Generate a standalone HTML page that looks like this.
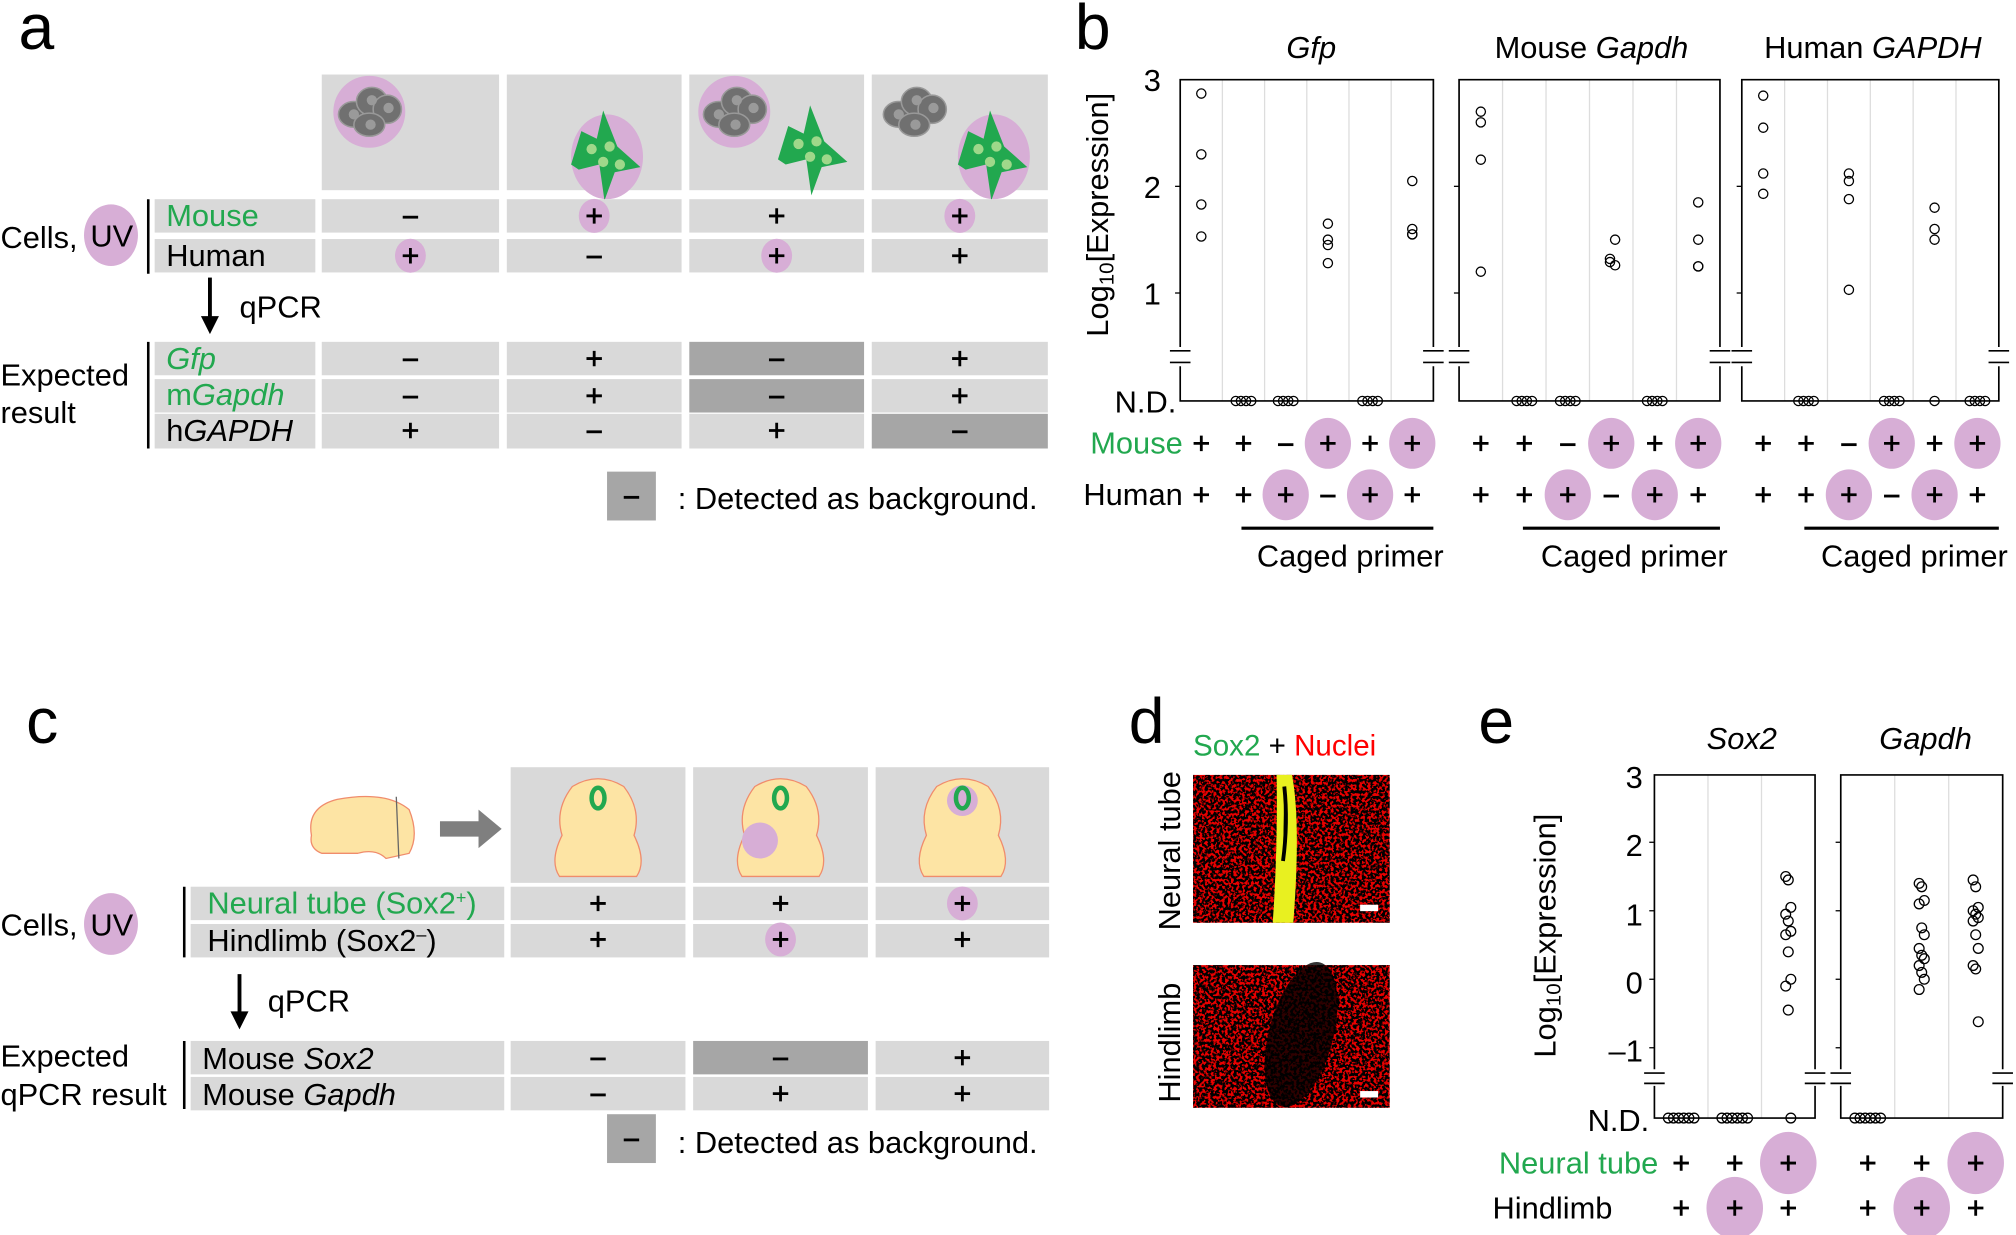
<!DOCTYPE html>
<html><head><meta charset="utf-8"><style>
html,body{margin:0;padding:0;background:#fff;}
svg{display:block;}
text{font-family:"Liberation Sans",Arial,sans-serif;}
</style></head><body>
<svg id="s" width="2016" height="1235" viewBox="0 0 1568 961" xmlns="http://www.w3.org/2000/svg">
<defs>
<filter id="noise" x="0" y="0" width="100%" height="100%">
<feTurbulence type="fractalNoise" baseFrequency="0.45" numOctaves="2" seed="3" result="t"/>
<feColorMatrix in="t" type="matrix" values="0 0 0 0 0  0 0 0 0 0  0 0 0 0 0  0 0 0 -9 5.2" result="m"/>
<feComposite in="m" in2="SourceGraphic" operator="in"/>
</filter>
</defs>
<g id="root"></g>
</svg>
<script>
const R=document.getElementById('root');let h='';
const T=(x,y,s,t,o='')=>{h+=`<text x="${x}" y="${y}" font-size="${s}" ${o}>${t}</text>`};
const rect=(x,y,w,hh,f)=>{h+=`<rect x="${x}" y="${y}" width="${w}" height="${hh}" fill="${f}"/>`};
const L='#d9d9d9',D='#a6a6a6',P='#d7aed6',G='#22a84f';
const sym=(x,y,s,pur,r=12)=>{if(pur)h+=`<ellipse cx="${x}" cy="${y}" rx="${r}" ry="${r*1.1}" fill="${P}"/>`;
 if(s=='+'){h+=`<path d="M${x-6} ${y}H${x+6}M${x} ${y-6}V${y+6}" stroke="#000" stroke-width="2.2"/>`}else{h+=`<path d="M${x-6} ${y+1}H${x+6}" stroke="#000" stroke-width="2.2"/>`}};
const gray=(x,y,pur)=>{if(pur)h+=`<circle cx="${x}" cy="${y}" r="28" fill="${P}"/>`;
 h+=`<g fill="#707070" stroke="#999" stroke-width="1.2"><ellipse cx="${x-12}" cy="${y+2}" rx="12" ry="10"/><ellipse cx="${x+2}" cy="${y-8}" rx="12" ry="11"/><ellipse cx="${x+14}" cy="${y-2}" rx="11" ry="11"/><ellipse cx="${x}" cy="${y+10}" rx="12" ry="9"/></g><g fill="#9a9a9a"><circle cx="${x-12}" cy="${y+2}" r="4"/><circle cx="${x+2}" cy="${y-9}" r="4"/><circle cx="${x+15}" cy="${y-3}" r="4"/><circle cx="${x+1}" cy="${y+10}" r="4"/></g>`};
const green=(x,y,pur)=>{if(pur)h+=`<ellipse cx="${x}" cy="${y}" rx="28" ry="33" fill="${P}"/>`;
 h+=`<path d="M${x-28} ${y+6}L${x-20} ${y-20}L${x-8} ${y-14}L${x-3} ${y-36}L${x+8} ${y-8}L${x+26} ${y+8}L${x+6} ${y+12}L${x-2} ${y+34}L${x-6} ${y+6}L${x-22} ${y+10}Z" fill="${G}"/><g fill="#9fd88a"><circle cx="${x-12}" cy="${y-6}" r="4"/><circle cx="${x+2}" cy="${y-8}" r="4"/><circle cx="${x-3}" cy="${y+4}" r="4"/><circle cx="${x+10}" cy="${y+6}" r="4"/></g>`};
// ===== a
T(14,38,50,'a');
const ac=[[250,138],[394,136],[536,136],[678,137]];
ac.forEach(c=>rect(c[0],58,c[1],90,L));
gray(287,87,1);green(472,122,1);gray(571,87,1);green(633,118,0);gray(711,87,0);green(773,122,1);
rect(120,155,125,26,L);rect(120,186,125,26,L);
T(129,176,24,'Mouse',`fill="${G}"`);T(129,207,24,'Human');
h+=`<path d="M115 155V213M115 266V349" stroke="#000" stroke-width="2"/>`;
T(0,193,24,'Cells,');h+=`<ellipse cx="86" cy="183" rx="21" ry="24" fill="${P}"/>`;T(70,192,24,'UV');
const aR1=[['-',0],['+',1],['+',0],['+',1]],aR2=[['+',1],['-',0],['+',1],['+',0]];
ac.forEach((c,i)=>{rect(c[0],155,c[1],26,L);rect(c[0],186,c[1],26,L);sym(c[0]+c[1]/2,168,aR1[i][0],aR1[i][1]);sym(c[0]+c[1]/2,199,aR2[i][0],aR2[i][1]);});
h+=`<path d="M163 216V252" stroke="#000" stroke-width="3"/><path d="M156 246L163 260L170 246Z"/>`;T(186,247,24,'qPCR');
rect(120,266,125,26,L);rect(120,295,125,26,L);rect(120,322,125,27,L);
T(129,287,24,'Gfp',`fill="${G}" font-style="italic"`);T(129,315,24,'m<tspan font-style="italic">Gapdh</tspan>',`fill="${G}"`);T(129,343,24,'h<tspan font-style="italic">GAPDH</tspan>');
T(0,300,24,'Expected');T(0,329,24,'result');
const ex=[['-','+','-','+'],['-','+','-','+'],['+','-','+','-']],dk=[[0,0,1,0],[0,0,1,0],[0,0,0,1]],ey=[266,295,322];
ac.forEach((c,i)=>{for(let r=0;r<3;r++){rect(c[0],ey[r],c[1],r==2?27:26,dk[r][i]?D:L);sym(c[0]+c[1]/2,ey[r]+13,ex[r][i],0);}});
rect(472,367,38,38,D);sym(491,386,'-',0);T(527,396,24,': Detected as background.');
// ===== b
T(836,38,50,'b');
const yb=v=>228-(v-1)*83;
const panels=[[918,1115,'<tspan font-style="italic">Gfp</tspan>',1020],[1135,1338,'Mouse <tspan font-style="italic">Gapdh</tspan>',1238],[1355,1555,'Human <tspan font-style="italic">GAPDH</tspan>',1457]];
const data=[
[[2.87,2.3,1.83,1.53],'N','N',[1.65,1.5,1.45,1.28],'N',[2.05,1.6,1.55,1.55]],
[[2.7,2.6,2.25,1.2],'N','N',[1.5,1.32,1.29,1.26],'N',[1.85,1.5,1.25,1.25]],
[[2.85,2.55,2.12,1.93],'N',[2.12,2.05,1.88,1.03],'N',[1.8,1.6,1.5,'n'],'N']];
panels.forEach((p,pi)=>{const [x0,x1,tt,tc]=p,w=(x1-x0)/6;
 for(let k=1;k<6;k++)h+=`<line x1="${x0+k*w}" y1="62" x2="${x0+k*w}" y2="312" stroke="#ddd" stroke-width="1"/>`;
 h+=`<path d="M${x0} 270V62H${x1}V270M${x0} 285V312H${x1}V285" fill="none" stroke="#000" stroke-width="1.3"/>`;
 [[x0,-1],[x1,1]].forEach(([xx])=>{h+=`<path d="M${xx-8} 273H${xx+8}M${xx-8} 282H${xx+8}" stroke="#000" stroke-width="1.3"/>`});
 [2,1].forEach(v=>h+=`<line x1="${x0-4}" y1="${yb(v)}" x2="${x0}" y2="${yb(v)}" stroke="#000"/>`);
 T(tc,45,24,tt,'text-anchor="middle"');
 data[pi].forEach((d,ci)=>{const cx=x0+w*(ci+0.5);
  if(d=='N'){[-6,-2,2,6].forEach(o=>h+=`<circle cx="${cx+o}" cy="312" r="3.6" fill="none" stroke="#000" stroke-width="1"/>`)}
  else d.forEach((v,j)=>{const yy=v=='n'?312:yb(v);h+=`<circle cx="${cx+(j%2?1:-1)*(pi==1&&ci==3?j*2-3:0)}" cy="${yy}" r="3.6" fill="none" stroke="#000" stroke-width="1"/>`});
  const m=['+','+','-','+','+','+'][ci],hu=['+','+','+','-','+','+'][ci];
  sym(cx,345,m,ci==3||ci==5,18);sym(cx,385,hu,ci==2||ci==4,18);});
 h+=`<line x1="${x0+w*2-18}" y1="411" x2="${x1}" y2="411" stroke="#000" stroke-width="2.5"/>`;
 T(x0+w*4+1,441,24,'Caged primer','text-anchor="middle"');
});
T(903,71,24,'3','text-anchor="end"');T(903,154,24,'2','text-anchor="end"');T(903,237,24,'1','text-anchor="end"');
T(915,321,24,'N.D.','text-anchor="end"');
T(0,0,24,'Log<tspan font-size="16" dy="4">10</tspan><tspan dy="-4">[Expression]</tspan>','transform="translate(862,262) rotate(-90)"');
T(920,353,24,'Mouse',`fill="${G}" text-anchor="end"`);T(920,393,24,'Human','text-anchor="end"');
// ===== c
T(20,578,50,'c');
h+=`<path d="M242 650Q238 628 262 622Q300 615 318 630Q326 650 318 664L300 668Q292 660 278 664L250 664Q240 660 242 650Z" fill="#fde4a4" stroke="#f08c6c" stroke-width="1"/><line x1="308" y1="620" x2="310" y2="668" stroke="#666"/>`;
h+=`<path d="M342 639H372V630L390 645L372 660V651H342Z" fill="#7f7f7f"/>`;
const cc=[[397,136],[539,136],[681,135]];
cc.forEach((c,i)=>{rect(c[0],597,c[1],90,L);const x=c[0]+c[1]/2;
 h+=`<path d="M${x-20} 612Q${x} 600 ${x+20} 612Q${x+34} 630 ${x+28} 650Q${x+38} 670 ${x+30} 682H${x-30}Q${x-38} 670 ${x-28} 650Q${x-34} 630 ${x-20} 612Z" fill="#fde4a4" stroke="#f08c6c" stroke-width="1"/>`;
 if(i==2)h+=`<circle cx="${x}" cy="623" r="12" fill="${P}"/>`;
 h+=`<ellipse cx="${x}" cy="621" rx="5" ry="8" fill="none" stroke="${G}" stroke-width="3.5"/>`;
 if(i==1)h+=`<circle cx="${x-16}" cy="654" r="14" fill="${P}"/>`;});
rect(148,690,244,26,L);rect(148,719,244,26,L);
T(161,711,24,'Neural tube (Sox2<tspan font-size="14" dy="-8">+</tspan><tspan dy="8">)</tspan>',`fill="${G}"`);T(161,740,24,'Hindlimb (Sox2<tspan font-size="14" dy="-8">–</tspan><tspan dy="8">)</tspan>');
h+=`<path d="M143 690V745M143 810V863" stroke="#000" stroke-width="2"/>`;
T(0,728,24,'Cells,');h+=`<ellipse cx="86" cy="719" rx="21" ry="24" fill="${P}"/>`;T(70,728,24,'UV');
const c1=[['+',0],['+',0],['+',1]],c2=[['+',0],['+',1],['+',0]];
cc.forEach((c,i)=>{rect(c[0],690,c[1],26,L);rect(c[0],719,c[1],26,L);sym(c[0]+c[1]/2,703,c1[i][0],c1[i][1]);sym(c[0]+c[1]/2,731,c2[i][0],c2[i][1]);});
h+=`<path d="M186 758V792" stroke="#000" stroke-width="3"/><path d="M179 787L186 801L193 787Z"/>`;T(208,787,24,'qPCR');
rect(148,810,244,26,L);rect(148,838,244,26,L);
T(157,832,24,'Mouse <tspan font-style="italic">Sox2</tspan>');T(157,860,24,'Mouse <tspan font-style="italic">Gapdh</tspan>');
T(0,830,24,'Expected');T(0,860,24,'qPCR result');
const ce=[['-','-','+'],['-','+','+']];
cc.forEach((c,i)=>{rect(c[0],810,c[1],26,(i==1)?D:L);rect(c[0],838,c[1],26,L);sym(c[0]+c[1]/2,823,ce[0][i],0);sym(c[0]+c[1]/2,851,ce[1][i],0);});
rect(472,867,38,38,D);sym(491,886,'-',0);T(527,897,24,': Detected as background.');
// ===== d
T(878,578,50,'d');
T(928,588,23,'<tspan fill="'+G+'">Sox2</tspan> + <tspan fill="#ff0000">Nuclei</tspan>');
rect(928,603,153,115,'#e80000');h+=`<rect x="928" y="603" width="153" height="115" fill="#e80000" filter="url(#noise)"/>`;
h+=`<path d="M993 603L1005 603Q1012 640 1006 718L990 718Q994 660 993 603Z" fill="#e8f020"/><path d="M999 612Q1002 640 998 670" stroke="#000" stroke-width="3"/>`;
rect(1058,704,14,5,'#fff');
rect(928,751,153,111,'#e80000');h+=`<rect x="928" y="751" width="153" height="111" fill="#e80000" filter="url(#noise)"/>`;
h+=`<ellipse cx="1012" cy="805" rx="25" ry="58" transform="rotate(15 1012 805)" fill="#000" opacity="0.8"/>`;
rect(1058,849,14,5,'#fff');
T(0,0,24,'Neural tube','transform="translate(918,724) rotate(-90)"');
T(0,0,24,'Hindlimb','transform="translate(918,858) rotate(-90)"');
// ===== e
T(1150,578,50,'e');
const ye=v=>762-v*53.3;
const ep=[[1287,1412,'Sox2',1355],[1432,1558,'Gapdh',1498]];
const ed=[['N','N',[1.5,1.45,1.05,0.95,0.85,0.7,0.65,0.4,0.0,-0.1,-0.45,'n']],['N',[1.4,1.35,1.15,1.1,0.75,0.65,0.45,0.35,0.3,0.2,0.1,0,-0.15],[1.45,1.35,1.05,1.0,0.95,0.9,0.85,0.65,0.45,0.2,0.15,-0.62]]];
ep.forEach((p,pi)=>{const [x0,x1,tt,tc]=p,w=(x1-x0)/3;
 for(let k=1;k<3;k++)h+=`<line x1="${x0+k*w}" y1="603" x2="${x0+k*w}" y2="870" stroke="#ddd"/>`;
 h+=`<path d="M${x0} 832V603H${x1}V832M${x0} 845V870H${x1}V845" fill="none" stroke="#000" stroke-width="1.3"/>`;
 [x0,x1].forEach(xx=>h+=`<path d="M${xx-8} 835H${xx+8}M${xx-8} 843H${xx+8}" stroke="#000" stroke-width="1.3"/>`);
 [2,1,0,-1].forEach(v=>h+=`<line x1="${x0-4}" y1="${ye(v)}" x2="${x0}" y2="${ye(v)}" stroke="#000"/>`);
 T(tc,583,24,tt,'text-anchor="middle" font-style="italic"');
 ed[pi].forEach((d,ci)=>{const cx=x0+w*(ci+0.5);
  if(d=='N'){[-10,-6,-2,2,6,10].forEach(o=>h+=`<circle cx="${cx+o}" cy="870" r="3.8" fill="none" stroke="#000" stroke-width="1"/>`)}
  else d.forEach((v,j)=>{const yy=v=='n'?870:ye(v);h+=`<circle cx="${cx+((j%3)-1)*2}" cy="${yy}" r="3.8" fill="none" stroke="#000" stroke-width="1"/>`});
  sym(cx,905,'+',ci==2,22);sym(cx,940,'+',ci==1,22);});
});
[[3,613],[2,666],[1,720],[0,773],['–1',826]].forEach(a=>T(1278,a[1],24,a[0],'text-anchor="end"'));
T(1283,880,24,'N.D.','text-anchor="end"');
T(0,0,24,'Log<tspan font-size="16" dy="4">10</tspan><tspan dy="-4">[Expression]</tspan>','transform="translate(1210,823) rotate(-90)"');
T(1290,913,24,'Neural tube',`fill="${G}" text-anchor="end"`);T(1161,948,24,'Hindlimb');
R.innerHTML=h;
</script>
</body></html>
